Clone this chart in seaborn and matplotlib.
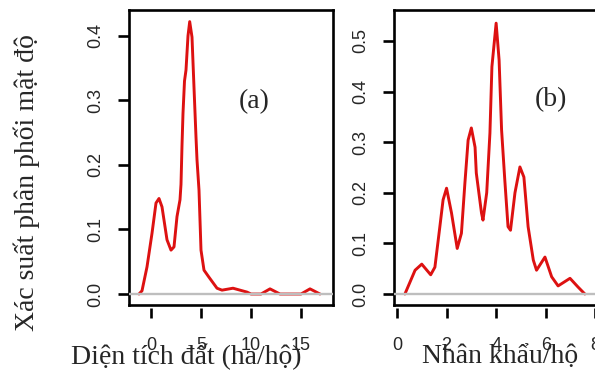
import matplotlib
matplotlib.use("Agg")
import matplotlib.pyplot as plt
import seaborn as sns

# density curve, land area (ha/household)
land_x = [-1.2, -0.9, -0.4, 0.1, 0.5, 0.8, 1.1, 1.6, 2.0, 2.3, 2.6, 2.9, 3.0, 3.1,
          3.2, 3.35, 3.5, 3.7, 3.87, 4.1, 4.3, 4.5, 4.6, 4.8, 5.0, 5.3, 5.8, 6.6,
          7.1, 8.2, 9.6, 10.0, 11.0, 11.9, 12.9, 15.0, 15.9, 16.9]
land_y = [0.0, 0.005, 0.042, 0.094, 0.141, 0.148, 0.135, 0.084, 0.068, 0.073,
          0.120, 0.146, 0.170, 0.230, 0.280, 0.330, 0.347, 0.400, 0.422, 0.398,
          0.320, 0.243, 0.208, 0.161, 0.068, 0.037, 0.026, 0.009, 0.006, 0.009,
          0.003, 0.0, 0.0, 0.008, 0.0, 0.0, 0.008, 0.0]

# density curve, household size
size_x = [0.32, 0.73, 1.0, 1.36, 1.53, 1.73, 1.86, 2.0, 2.2, 2.43, 2.6, 2.74,
          2.87, 3.0, 3.15, 3.2, 3.41, 3.47, 3.62, 3.75, 3.83, 4.0, 4.12, 4.22,
          4.35, 4.48, 4.58, 4.76, 4.96, 5.12, 5.29, 5.5, 5.63, 5.97, 6.24, 6.5,
          6.98, 7.3, 7.58]
size_y = [0.0, 0.047, 0.059, 0.038, 0.053, 0.133, 0.186, 0.209, 0.160, 0.090,
          0.120, 0.219, 0.304, 0.328, 0.290, 0.239, 0.160, 0.146, 0.200, 0.318,
          0.449, 0.535, 0.462, 0.324, 0.225, 0.133, 0.126, 0.200, 0.251, 0.231,
          0.133, 0.067, 0.047, 0.073, 0.034, 0.016, 0.031, 0.014, 0.0]

land_xticks = [0, 5, 10, 15]
land_yticks = [0.0, 0.1, 0.2, 0.3, 0.4]
size_xticks = [0, 2, 4, 6, 8]
size_yticks = [0.0, 0.1, 0.2, 0.3, 0.4, 0.5]

sns.set_style("ticks")
plt.rcParams["font.family"] = ["Liberation Sans", "DejaVu Sans"]
SERIF = ["Liberation Serif", "DejaVu Serif"]
RED = "#dd1111"

fig = plt.figure(figsize=(5.95, 3.76), dpi=100)
ax_a = fig.add_axes([129 / 595, 1 - 305 / 376, 204 / 595, 295 / 376])
ax_b = fig.add_axes([394 / 595, 1 - 305 / 376, 205 / 595, 295 / 376])

panels = [
    (ax_a, land_x, land_y, land_xticks, land_yticks, (-2.2, 18.2), (-0.017, 0.440),
     "Diện tích đất (ha/hộ)", 0.279, "(a)", (0.613, 0.690)),
    (ax_b, size_x, size_y, size_xticks, size_yticks, (-0.12, 8.15), (-0.0217, 0.561),
     "Nhân khẩu/hộ", 0.517, "(b)", (0.766, 0.695)),
]

for ax, xs, ys, xt, yt, xl, yl, xlab, xlab_pos, tag, tag_pos in panels:
    sns.lineplot(x=xs, y=ys, ax=ax, color=RED, linewidth=2.1, sort=False, zorder=2)
    ax.axhline(0, color="#bebebe", linewidth=1.7, zorder=3)
    ax.set_xlim(*xl)
    ax.set_ylim(*yl)
    ax.set_xticks(xt)
    ax.set_xticklabels([str(v) for v in xt])
    ax.set_yticks(yt)
    ax.set_yticklabels([f"{v:.1f}" for v in yt])

    for side in ["top", "left", "right"]:
        ax.spines[side].set_visible(True)
        ax.spines[side].set_linewidth(1.9)
        ax.spines[side].set_color("black")
    # x axis sits a little below the box, like R's axis()
    ax.spines["bottom"].set_visible(True)
    ax.spines["bottom"].set_position(("outward", 2.2))
    ax.spines["bottom"].set_color("none")
    ax.plot([0, 1], [0, 0], transform=ax.transAxes, color="black",
            linewidth=1.9, clip_on=False, zorder=5, solid_capstyle="projecting")

    ax.tick_params(axis="x", direction="out", length=7.5, width=1.9, color="black",
                   pad=13, labelsize=13, bottom=True)
    ax.tick_params(axis="y", direction="out", length=8, width=1.9, color="black",
                   pad=10, labelsize=13, labelrotation=90, left=True)
    for lab in ax.get_yticklabels():
        lab.set_va("center")

    ax.set_xlabel(xlab, fontsize=20, family=SERIF)
    ax.xaxis.set_label_coords(xlab_pos, -0.176)
    ax.xaxis.label.set_va("center")
    ax.text(tag_pos[0], tag_pos[1], tag, transform=ax.transAxes, fontsize=20,
            family=SERIF, ha="center", va="center")
    ax.grid(False)

ax_a.set_ylabel("Xác suất phân phối mật độ", fontsize=20, family=SERIF)
ax_a.yaxis.set_label_coords(-0.5, 0.414)
ax_a.yaxis.label.set_va("center")

fig.savefig("out.png", dpi=100)
